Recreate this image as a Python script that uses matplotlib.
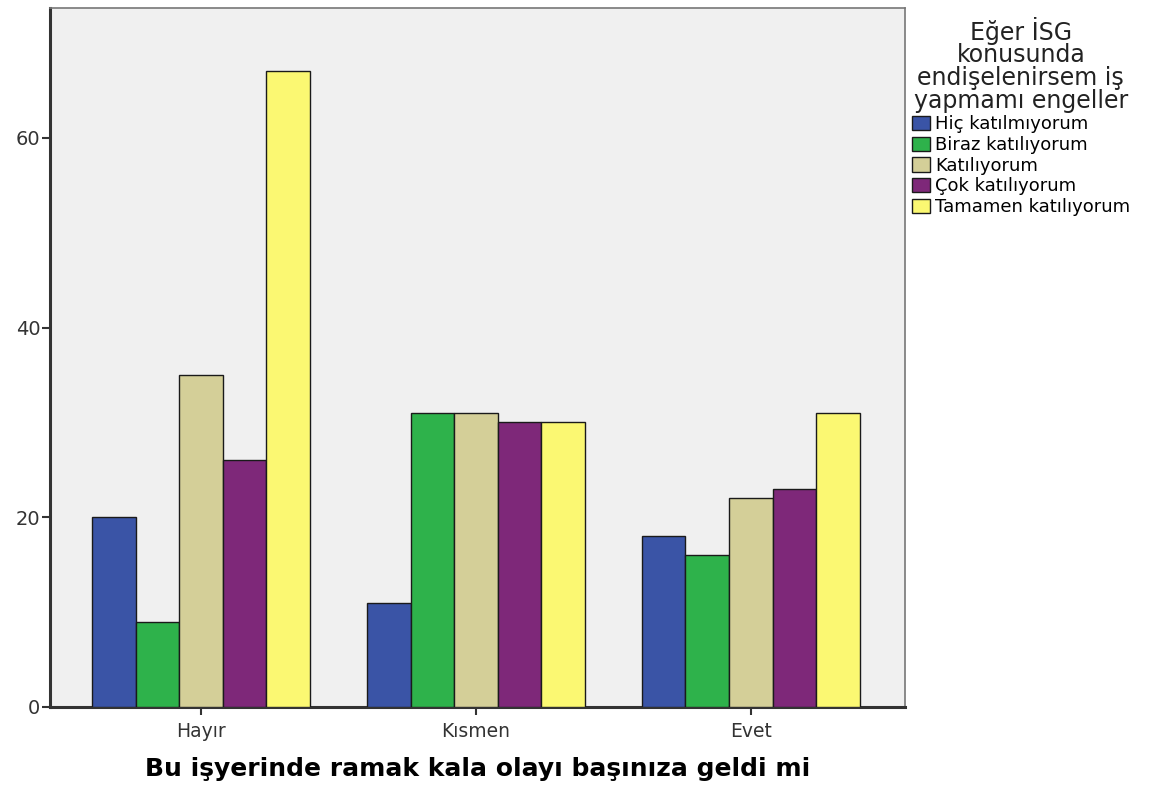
import numpy as np
import matplotlib
matplotlib.use("Agg")
import matplotlib.pyplot as plt

plt.rcParams['font.family'] = ['DejaVu Sans']

categories = ["Hayır", "Kısmen", "Evet"]
series_names = ["Hiç katılmıyorum", "Biraz katılıyorum", "Katılıyorum",
                "Çok katılıyorum", "Tamamen katılıyorum"]
hic = [20, 11, 18]
biraz = [9, 31, 16]
katiliyorum = [35, 31, 22]
cok = [26, 30, 23]
tamamen = [67, 30, 31]
yticks = [0, 20, 40, 60]

series = [hic, biraz, katiliyorum, cok, tamamen]
colors = ["#3a54a6", "#2eb24b", "#d4cf98", "#7e2879", "#fbf872"]

fig = plt.figure(figsize=(11.51, 7.85), dpi=100)
ax = fig.add_axes([0.0434, 0.0994, 0.7426, 0.8906])
ax.set_facecolor("#f0f0f0")

x = np.arange(len(categories))
w = 0.1586
for i, (vals, col, name) in enumerate(zip(series, colors, series_names)):
	ax.bar(x + (i - 2) * w, vals, width=w, color=col, edgecolor="#1a1a1a",
		linewidth=1.0, label=name, zorder=3)

ax.set_xlim(-0.55, 2.56)
ax.set_ylim(0, 73.7)
ax.set_yticks(yticks)
ax.set_yticklabels([str(v) for v in yticks], fontsize=14, color="#333333")
ax.set_xticks(x)
ax.set_xticklabels(categories, fontsize=13.5, color="#333333")
ax.tick_params(axis="y", direction="out", length=6, width=1.5, color="#333333", pad=1)
ax.tick_params(axis="x", direction="out", length=6, width=1.5, color="#333333", pad=5)

for s in ["left", "bottom"]:
	ax.spines[s].set_linewidth(2.2)
	ax.spines[s].set_color("#333333")
for s in ["top", "right"]:
	ax.spines[s].set_linewidth(1.2)
	ax.spines[s].set_color("#777777")

ax.set_xlabel("Bu işyerinde ramak kala olayı başınıza geldi mi", fontsize=18,
	fontweight="bold", labelpad=11)

leg = fig.legend(loc="upper left", bbox_to_anchor=(0.781, 0.995), frameon=False,
	title="Eğer İSG\nkonusunda\nendişelenirsem iş\nyapmamı engeller",
	fontsize=13, title_fontsize=17, handlelength=1.0, handleheight=0.85,
	handletextpad=0.3, labelspacing=0.15, borderpad=0.2)
leg.get_title().set_multialignment("center")
leg.get_title().set_linespacing(0.93)
leg.get_title().set_color("#222222")

fig.savefig("out.png", dpi=100)
